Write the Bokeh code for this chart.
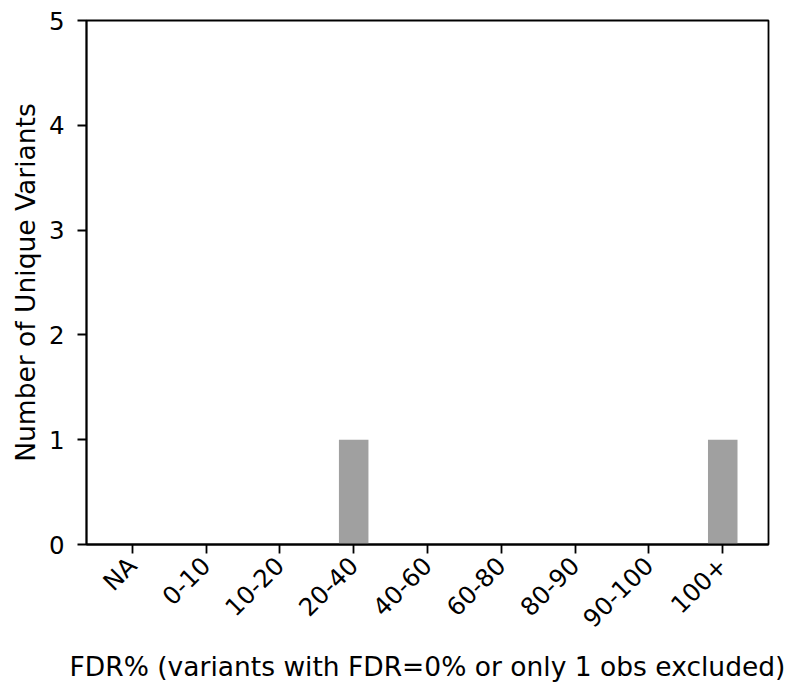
import math
from bokeh.plotting import figure
from bokeh.models import Range1d, FixedTicker, Label
from bokeh.embed import file_html
from bokeh.resources import INLINE

categories = ["NA", "0-10", "10-20", "20-40", "40-60", "60-80", "80-90", "90-100", "100+"]
counts = [0, 0, 0, 1, 0, 0, 0, 0, 1]
y_ticks = [0, 1, 2, 3, 4, 5]
title_text = "T.P Per Variant FDR"
x_label = "FDR% (variants with FDR=0% or only 1 obs excluded)"
y_label = "Number of Unique Variants"

FONT = "DejaVu Sans"
TICK_PX = 24.5
LABEL_PX = 26.5
TITLE_PX = 32

W, H = 790, 685
BL, BR, BT, BB = 86, 22, 20, 140
Y_MAX = 5

idx = list(range(len(categories)))

p = figure(width=W, height=H, output_backend="svg", toolbar_location=None,
           x_range=Range1d(-0.62, len(categories) - 1 + 0.62), y_range=Range1d(0, Y_MAX),
           min_border_left=BL, min_border_right=BR, min_border_top=BT, min_border_bottom=BB)

p.vbar(x=idx, top=counts, width=0.4, bottom=0, fill_color="#a0a0a0", line_color=None)

p.xgrid.visible = False
p.ygrid.visible = False
p.outline_line_color = "black"
p.outline_line_width = 1.8
p.background_fill_color = "white"
p.border_fill_color = "white"

TICK_LEN = 9

xa = p.xaxis[0]
xa.ticker = FixedTicker(ticks=idx)
xa.major_label_overrides = {i: c for i, c in zip(idx, categories)}
xa.major_label_orientation = math.pi / 4
xa.major_label_standoff = 8
xa.axis_label = x_label

ya = p.yaxis[0]
ya.ticker = FixedTicker(ticks=y_ticks)
ya.axis_label = y_label
ya.major_label_standoff = 13
ya.axis_label_standoff = 5

for ax in (xa, ya):
    ax.axis_line_color = "black"
    ax.axis_line_width = 1.8
    ax.major_tick_line_color = "black"
    ax.major_tick_line_width = 1.8
    ax.major_tick_out = TICK_LEN
    ax.major_tick_in = 0
    ax.minor_tick_line_color = None
    ax.major_label_text_font = FONT
    ax.major_label_text_font_size = f"{TICK_PX}px"
    ax.major_label_text_color = "black"
    ax.axis_label_text_font = FONT
    ax.axis_label_text_font_size = f"{LABEL_PX}px"
    ax.axis_label_text_font_style = "normal"
    ax.axis_label_text_color = "black"

xa.axis_label_standoff = 5

# title sits above the frame and is cut off at the top edge, as in the reference
title = Label(x=(len(categories) - 1) / 2, y=Y_MAX, y_offset=15, text=title_text,
              text_align="center", text_baseline="alphabetic", text_font=FONT,
              text_font_size=f"{TITLE_PX}px", text_color="black")
p.add_layout(title)

open("out.html", "w").write(file_html(p, INLINE))
